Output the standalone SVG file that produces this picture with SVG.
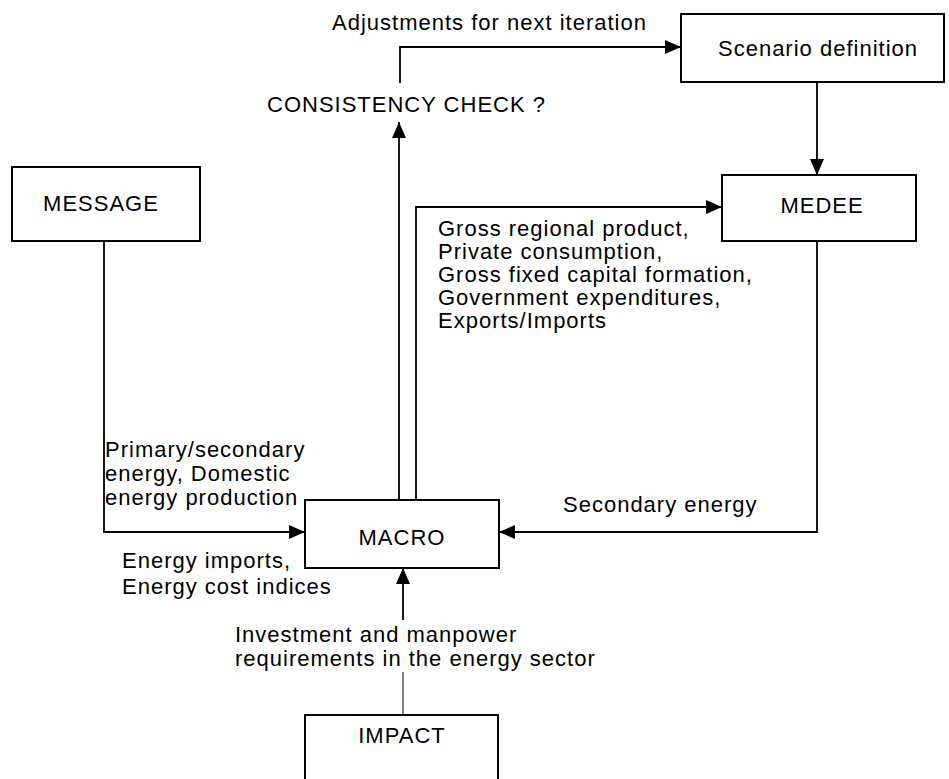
<svg xmlns="http://www.w3.org/2000/svg" width="949" height="779" viewBox="0 0 949 779">
<style>
.box{fill:#fff;stroke:#000;stroke-width:2}
.lbl{font-family:"Liberation Sans",Arial,sans-serif;font-size:22px;fill:#000;letter-spacing:1px}
.mid{text-anchor:middle}
.con{fill:none;stroke:#000;stroke-width:1.8}
</style>
<defs>
<marker id="ah" viewBox="0 0 16 14" refX="16" refY="7" markerWidth="16" markerHeight="14" markerUnits="userSpaceOnUse" orient="auto">
<path d="M0,0 L16,7 L0,14 z" fill="#000"/>
</marker>
</defs>
<rect width="949" height="779" fill="#fff"/>
<g id="connectors">
<path class="con" d="M400,83 V47 H681" marker-end="url(#ah)"/>
<path class="con" d="M399,500 V122" marker-end="url(#ah)"/>
<path class="con" d="M416,500 V207 H722" marker-end="url(#ah)"/>
<path class="con" d="M817,82 V175" marker-end="url(#ah)"/>
<path class="con" d="M817,241 V532 H499" marker-end="url(#ah)"/>
<path class="con" d="M104,241 V532 H305" marker-end="url(#ah)"/>
<path class="con" d="M403,715 V672" style="stroke-width:1"/>
<path class="con" d="M403,620 V568" marker-end="url(#ah)"/>
</g>
<g id="scenario">
<rect class="box" x="681" y="14" width="263" height="68"/>
<text class="lbl mid" x="818" y="56">Scenario definition</text>
</g>
<g id="medee">
<rect class="box" x="722" y="175" width="194" height="66"/>
<text class="lbl mid" x="822" y="213">MEDEE</text>
</g>
<g id="message">
<rect class="box" x="12" y="167" width="188" height="74"/>
<text class="lbl mid" x="101" y="211">MESSAGE</text>
</g>
<g id="macro">
<rect class="box" x="305" y="500" width="194" height="68"/>
<text class="lbl mid" x="402" y="545">MACRO</text>
</g>
<g id="impact">
<rect class="box" x="305" y="715" width="193" height="80"/>
<text class="lbl mid" x="402" y="743">IMPACT</text>
</g>
<g id="labels">
<text class="lbl" x="332" y="30">Adjustments for next iteration</text>
<text class="lbl" x="267" y="112">CONSISTENCY CHECK ?</text>
<text class="lbl" x="438" y="236">Gross regional product,</text>
<text class="lbl" x="438" y="259">Private consumption,</text>
<text class="lbl" x="438" y="282">Gross fixed capital formation,</text>
<text class="lbl" x="438" y="305">Government expenditures,</text>
<text class="lbl" x="438" y="328">Exports/Imports</text>
<text class="lbl" x="105" y="457">Primary/secondary</text>
<text class="lbl" x="105" y="481">energy, Domestic</text>
<text class="lbl" x="105" y="505">energy production</text>
<text class="lbl" x="563" y="512">Secondary energy</text>
<text class="lbl" x="122" y="568">Energy imports,</text>
<text class="lbl" x="122" y="594">Energy cost indices</text>
<text class="lbl" x="235" y="642">Investment and manpower</text>
<text class="lbl" x="235" y="666">requirements in the energy sector</text>
</g>
</svg>
